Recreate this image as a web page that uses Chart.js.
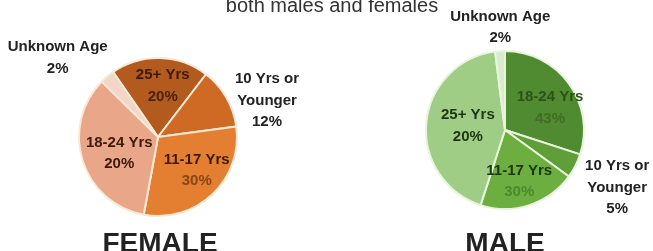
<!DOCTYPE html>
<html>
<head>
<meta charset="utf-8">
<script src="https://cdn.jsdelivr.net/npm/chart.js@4"></script>
<style>
  body { margin: 0; background: #fff; }
  #wrap { position: relative; width: 653px; height: 251px; overflow: hidden; }
  #wrap canvas { position: absolute; top: 0; }
  #title {
    position: absolute; left: 0; width: 664px; top: -6px;
    text-align: center; font: 20px "Liberation Sans", Arial, sans-serif; color: #333;
  }
</style>
</head>
<body>
<div id="wrap">
  <canvas id="female" width="326" height="251" style="left:0"></canvas>
  <canvas id="male" width="327" height="251" style="left:326px"></canvas>
  <div id="title">both males and females</div>
</div>
<script>
// female, clockwise from the slice left of top
const femaleCats = ['25+ Yrs', '10 Yrs or\nYounger', '11-17 Yrs', '18-24 Yrs', 'Unknown Age'];
const femaleVals = [20, 12.5, 30, 34.5, 3];
const femaleTxt = ['20%', '12%', '30%', '20%', '2%'];
const femaleColors = ['#b35a1f', '#cf6a24', '#e47f32', '#eaa688', '#f1d6c9'];

// male, clockwise from top
const maleCats = ['18-24 Yrs', '10 Yrs or\nYounger', '11-17 Yrs', '25+ Yrs', 'Unknown Age'];
const maleVals = [30, 5, 20, 43, 2];
const maleTxt = ['43%', '5%', '30%', '20%', '2%'];
const maleColors = ['#508b31', '#5f9e39', '#6cae40', '#a0cd86', '#d8ebcc'];

// label placement, in pie radii from the centre
const femalePos = [[0.06, -0.65], [1.38, -0.46], [0.49, 0.42], [-0.49, 0.21], [-1.27, -1.0]];
const femaleInk = [['#3b1a05', '#4a2208'], ['#222', '#222'], ['#3b1a05', '#8a4514'], ['#3b1a08', '#3b1a08'], ['#222', '#222']];
const malePos = [[0.57, -0.28], [1.42, 0.73], [0.18, 0.65], [-0.47, -0.05], [-0.06, -1.30]];
const maleInk = [['#2c5217', '#3f6e24'], ['#222', '#222'], ['#1d3510', '#4a8a2c'], ['#1d3510', '#1d3510'], ['#222', '#222']];

const labelPlugin = {
  id: 'sliceLabels',
  afterDraw(chart, args, opts) {
    const ctx = chart.ctx;
    const arc = chart.getDatasetMeta(0).data[0];
    const cx = arc.x, cy = arc.y, r = arc.outerRadius;
    ctx.save();
    ctx.textAlign = 'center';
    ctx.textBaseline = 'middle';
    ctx.font = 'bold 15px "Liberation Sans", Arial, sans-serif';
    chart.data.labels.forEach((name, i) => {
      const lines = name.split('\n');
      const all = lines.concat([opts.pct[i]]);
      const x = cx + opts.pos[i][0] * r;
      const y0 = cy + opts.pos[i][1] * r - (all.length - 1) * 21.5 / 2;
      all.forEach((t, j) => {
        ctx.fillStyle = j < lines.length ? opts.ink[i][0] : opts.ink[i][1];
        ctx.fillText(t, x, y0 + j * 21.5);
      });
    });
    ctx.font = 'bold 28px "Liberation Sans", Arial, sans-serif';
    ctx.fillStyle = '#222';
    ctx.textBaseline = 'alphabetic';
    ctx.fillText(opts.caption, cx + opts.capDx, 252);
    ctx.restore();
  }
};

function makePie(id, cats, vals, colors, border, rotation, padding, pos, ink, pct, caption, capDx) {
  return new Chart(document.getElementById(id), {
    type: 'pie',
    data: {
      labels: cats,
      datasets: [{
        data: vals,
        backgroundColor: colors,
        borderColor: border,
        borderWidth: 2,
        hoverOffset: 0
      }]
    },
    options: {
      responsive: false,
      animation: false,
      rotation: rotation,
      layout: { padding: padding },
      events: [],
      plugins: {
        legend: { display: false },
        tooltip: { enabled: false },
        sliceLabels: { pos: pos, ink: ink, pct: pct, caption: caption, capDx: capDx }
      }
    },
    plugins: [labelPlugin]
  });
}

makePie('female', femaleCats, femaleVals, femaleColors, '#f6ead6', -34.6,
  { left: 78, right: 88, top: 57, bottom: 34 }, femalePos, femaleInk, femaleTxt, 'FEMALE', 2);
makePie('male', maleCats, maleVals, maleColors, '#e8f5dc', 0,
  { left: 99, right: 68, top: 50, bottom: 41 }, malePos, maleInk, maleTxt, 'MALE', 0);
</script>
</body>
</html>
